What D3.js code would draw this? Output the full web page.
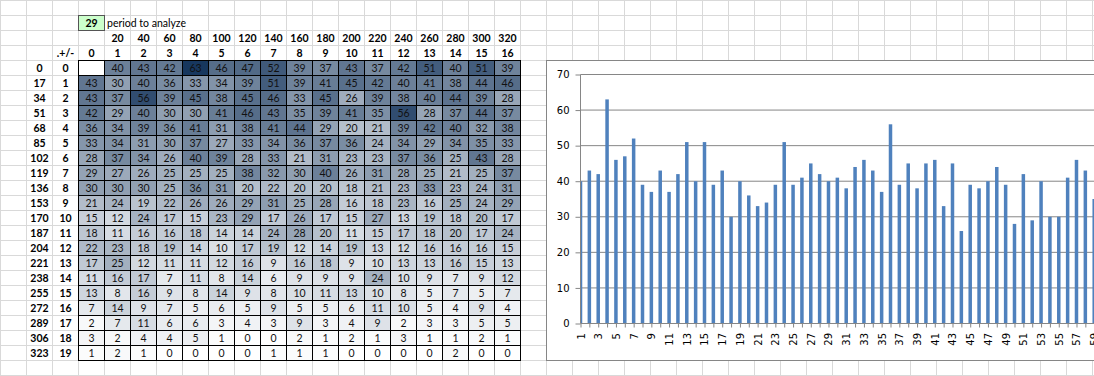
<!DOCTYPE html>
<html>
<head>
<meta charset="utf-8">
<script src="https://cdn.jsdelivr.net/npm/d3@7"></script>
<style>
  html, body { margin: 0; padding: 0; background: #fff; }
  svg { display: block; }
</style>
</head>
<body>
<svg id="chart" width="1094" height="376"></svg>
<script>
// ---------------- DATA ----------------
const periodValue = "29";
const periodLabel = "period to analyze";
const colIndex = [0,1,2,3,4,5,6,7,8,9,10,11,12,13,14,15,16];
const colPeriods = ["", "20","40","60","80","100","120","140","160","180","200","220","240","260","280","300","320"];
const rowIndex = [0,1,2,3,4,5,6,7,8,9,10,11,12,13,14,15,16,17,18,19];
const rowOffsets = ["0","17","34","51","68","85","102","119","136","153","170","187","204","221","238","255","272","289","306","323"];
const cornerLabel = ".+/-";

const row0  = [null,40,43,42,63,46,47,52,39,37,43,37,42,51,40,51,39];
const row1  = [43,30,40,36,33,34,39,51,39,41,45,42,40,41,38,44,46];
const row2  = [43,37,56,39,45,38,45,46,33,45,26,39,38,40,44,39,28];
const row3  = [42,29,40,30,30,41,46,43,35,39,41,35,56,28,37,44,37];
const row4  = [36,34,39,36,41,31,38,41,44,29,20,21,39,42,40,32,38];
const row5  = [33,34,31,30,37,27,33,34,36,37,36,24,34,29,34,35,33];
const row6  = [28,37,34,26,40,39,28,33,21,31,23,23,37,36,25,43,28];
const row7  = [29,27,26,25,25,25,38,32,30,40,26,31,28,25,21,25,37];
const row8  = [30,30,30,25,36,31,20,22,20,20,18,21,23,33,23,24,31];
const row9  = [21,24,19,22,26,26,29,31,25,28,16,18,23,16,25,24,29];
const row10 = [15,12,24,17,15,23,29,17,26,17,15,27,13,19,18,20,17];
const row11 = [18,11,16,16,18,14,14,24,28,20,11,15,17,18,20,17,24];
const row12 = [22,23,18,19,14,10,17,19,12,14,19,13,12,16,16,16,15];
const row13 = [17,25,12,11,11,12,16,9,16,18,9,10,13,13,16,15,13];
const row14 = [11,16,17,7,11,8,14,6,9,9,9,24,10,9,7,9,12];
const row15 = [13,8,16,9,8,14,9,8,10,11,13,10,8,5,7,5,7];
const row16 = [7,14,9,7,5,6,5,9,5,5,6,11,10,5,4,9,4];
const row17 = [2,7,11,6,6,3,4,3,9,3,4,9,2,3,3,5,5];
const row18 = [3,2,4,4,5,1,0,0,2,1,2,1,3,1,1,2,1];
const row19 = [1,2,1,0,0,0,0,1,1,1,0,0,0,0,2,0,0];
const tableRows = [row0,row1,row2,row3,row4,row5,row6,row7,row8,row9,row10,row11,row12,row13,row14,row15,row16,row17,row18,row19];

// bar chart series (categories 1..59)
const barCategories = d3.range(1, 60);
const barValues = [40,43,42,63,46,47,52,39,37,43,37,42,51,40,51,39,
                   43,30,40,36,33,34,39,51,39,41,45,42,40,41,38,44,46,
                   43,37,56,39,45,38,45,46,33,45,26,39,38,40,44,39,28,
                   42,29,40,30,30,41,46,43,35];
const yTicks = [0,10,20,30,40,50,60,70];

// ---------------- LAYOUT ----------------
const W = 1094, H = 376;
const svg = d3.select("#chart");
const FONT = "Lato, 'Open Sans', sans-serif";
const CFONT = "'DejaVu Sans', Verdana, sans-serif";

// Excel sheet gridlines
const gridX = d3.range(0, 43).map(j => 0.5 + 26 * j);
const gridY = d3.range(0, 26).map(i => 0.5 + 15 * i);
const sheet = svg.append("g");
sheet.selectAll("line.gx").data(gridX).join("line")
  .attr("x1", d => d).attr("x2", d => d).attr("y1", 0).attr("y2", H)
  .attr("stroke", "#d9d9d9");
sheet.selectAll("line.gy").data(gridY).join("line")
  .attr("x1", 0).attr("x2", W).attr("y1", d => d).attr("y2", d => d)
  .attr("stroke", "#d9d9d9");

// Table scales
const xCol = d3.scaleBand().domain(colIndex).range([78.5, 520.5]);
const yRow = d3.scaleBand().domain(rowIndex).range([60.5, 360.5]);
const color = d3.scaleLinear().domain([0, 63]).range(["#ffffff", "#17375E"]);

// period box
svg.append("rect").attr("x", 78.5).attr("y", 15.5).attr("width", 26).attr("height", 15)
  .attr("fill", "#ccffcc").attr("stroke", "#555");
svg.append("text").attr("x", 91.5).attr("y", 23).attr("dy", "0.35em")
  .attr("text-anchor", "middle").attr("font-family", FONT).attr("font-weight", "bold")
  .attr("font-size", 10.5).text(periodValue);
svg.append("text").attr("x", 107).attr("y", 23).attr("dy", "0.35em")
  .attr("font-family", FONT).attr("font-size", 10.5).text(periodLabel);

// column headers
svg.append("g").selectAll("text").data(colIndex.filter(d => colPeriods[d] !== "")).join("text")
  .attr("x", d => xCol(d) + xCol.bandwidth() / 2).attr("y", 38).attr("dy", "0.35em")
  .attr("text-anchor", "middle").attr("font-family", FONT).attr("font-weight", "bold")
  .attr("font-size", 10.5).text(d => colPeriods[d]);
svg.append("g").selectAll("text").data(colIndex).join("text")
  .attr("x", d => xCol(d) + xCol.bandwidth() / 2).attr("y", 53).attr("dy", "0.35em")
  .attr("text-anchor", "middle").attr("font-family", FONT).attr("font-weight", "bold")
  .attr("font-size", 10.5).text(d => d);
svg.append("text").attr("x", 65.5).attr("y", 53).attr("dy", "0.35em")
  .attr("text-anchor", "middle").attr("font-family", FONT).attr("font-weight", "bold")
  .attr("font-size", 10.5).text(cornerLabel);

// row headers
svg.append("g").selectAll("text").data(rowIndex).join("text")
  .attr("x", 39.5).attr("y", d => yRow(d) + yRow.bandwidth() / 2).attr("dy", "0.35em")
  .attr("text-anchor", "middle").attr("font-family", FONT).attr("font-weight", "bold")
  .attr("font-size", 10.5).text(d => rowOffsets[d]);
svg.append("g").selectAll("text").data(rowIndex).join("text")
  .attr("x", 65.5).attr("y", d => yRow(d) + yRow.bandwidth() / 2).attr("dy", "0.35em")
  .attr("text-anchor", "middle").attr("font-family", FONT).attr("font-weight", "bold")
  .attr("font-size", 10.5).text(d => d);

// heatmap cells
const cells = [];
tableRows.forEach((r, ri) => r.forEach((v, ci) => cells.push({ r: ri, c: ci, v })));
const cg = svg.append("g");
cg.selectAll("rect").data(cells).join("rect")
  .attr("x", d => xCol(d.c)).attr("y", d => yRow(d.r))
  .attr("width", xCol.bandwidth()).attr("height", yRow.bandwidth())
  .attr("fill", d => d.v == null ? "#ffffff" : color(d.v))
  .attr("stroke", "#000").attr("stroke-width", 1);
cg.selectAll("text").data(cells.filter(d => d.v != null)).join("text")
  .attr("x", d => xCol(d.c) + xCol.bandwidth() / 2)
  .attr("y", d => yRow(d.r) + yRow.bandwidth() / 2).attr("dy", "0.35em")
  .attr("text-anchor", "middle").attr("font-family", FONT).attr("font-size", 10.5)
  .attr("fill", "#111").text(d => d.v);

// ---------------- BAR CHART ----------------
svg.append("rect").attr("x", 546.5).attr("y", 60.5).attr("width", 600).attr("height", 300)
  .attr("fill", "#fff").attr("stroke", "#868686");

const x = d3.scalePoint().domain(barCategories).range([580.5, 580.5 + 58 * 8.857]);
const y = d3.scaleLinear().domain([0, 70]).range([323.5, 74.5]);
const barW = 3.5;

svg.append("defs").append("clipPath").attr("id", "plotclip")
  .append("rect").attr("x", 580.5).attr("y", 60).attr("width", 600).attr("height", 264);

// gridlines
svg.append("g").selectAll("line").data(yTicks.filter(d => d > 0)).join("line")
  .attr("x1", 580.5).attr("x2", W).attr("y1", d => y(d)).attr("y2", d => y(d))
  .attr("stroke", "#868686");

// bars
svg.append("g").attr("clip-path", "url(#plotclip)")
  .selectAll("rect").data(barCategories).join("rect")
  .attr("x", (d, i) => x(d) - barW / 2).attr("width", barW)
  .attr("y", (d, i) => y(barValues[i])).attr("height", (d, i) => y(0) - y(barValues[i]))
  .attr("fill", "#4F81BD");

// y axis
const yAxis = svg.append("g").attr("transform", "translate(580.5,0)")
  .call(d3.axisLeft(y).tickValues(yTicks).tickSize(5).tickPadding(6));
yAxis.select(".domain").attr("stroke", "#868686").attr("d", "M0,74.5V323.5");
yAxis.selectAll(".tick line").attr("stroke", "#868686");
yAxis.selectAll("text").attr("font-family", CFONT).attr("font-size", 10).attr("fill", "#000");

// x axis
const xAxis = svg.append("g").attr("transform", "translate(0,323.5)")
  .call(d3.axisBottom(x).tickValues(barCategories).tickSize(4)
    .tickFormat(d => d % 2 === 1 ? d : ""));
xAxis.select(".domain").attr("stroke", "#868686").attr("d", "M580.5,0H" + W);
xAxis.selectAll(".tick line").attr("stroke", "#868686");
xAxis.selectAll("text")
  .attr("font-family", CFONT).attr("font-size", 10).attr("fill", "#000")
  .attr("transform", "rotate(-90)")
  .attr("text-anchor", "end")
  .attr("x", -9.5).attr("y", 0).attr("dy", "0.35em");
</script>
</body>
</html>
